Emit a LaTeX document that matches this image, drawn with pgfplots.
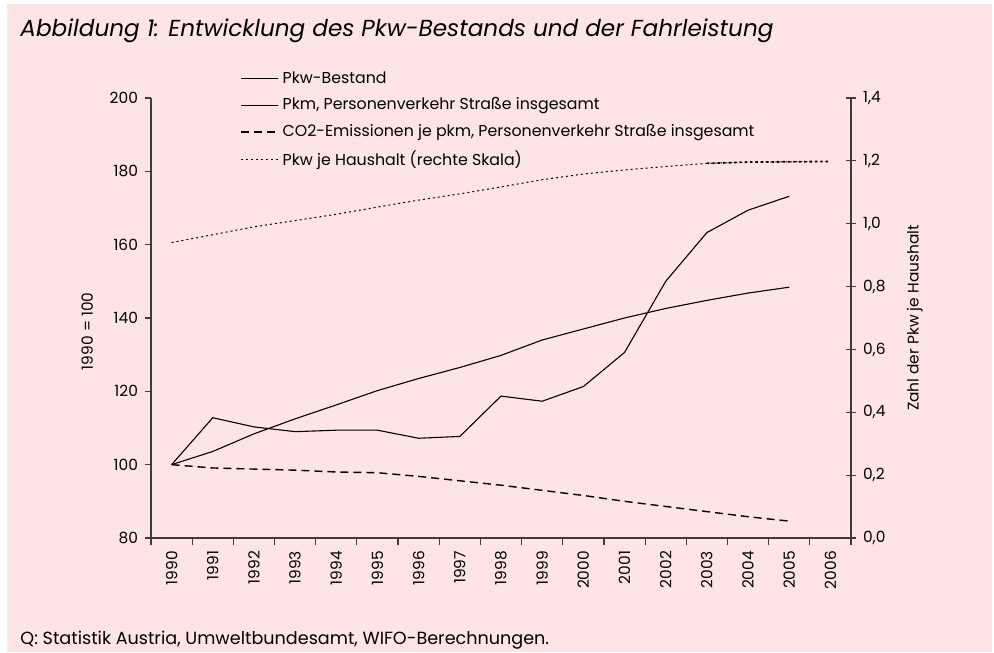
\documentclass[border=0pt]{standalone}
\usepackage{fontspec}
\setmainfont{Poppins}
\usepackage{pgfplots}
\pgfplotsset{compat=1.18}
\definecolor{bg}{RGB}{255,228,230}
\definecolor{ax}{RGB}{60,60,60}

\pgfplotstableread{
year bestand pkm co2
1990 100.0 100.0 100.0
1991 103.6 112.8 99.1
1992 108.4 110.3 98.8
1993 112.5 109.0 98.5
1994 116.3 109.4 98.0
1995 120.2 109.4 97.8
1996 123.5 107.2 96.8
1997 126.5 107.7 95.6
1998 129.8 118.7 94.4
1999 134.0 117.3 93.0
2000 137.0 121.3 91.6
2001 140.0 130.6 90.0
2002 142.6 150.0 88.6
2003 144.8 163.3 87.2
2004 146.8 169.4 85.8
2005 148.4 173.2 84.6
}\links

\pgfplotstableread{
year hh
1990 0.940
1991 0.965
1992 0.990
1993 1.010
1994 1.030
1995 1.053
1996 1.075
1997 1.095
1998 1.117
1999 1.140
2000 1.158
2001 1.171
2002 1.182
2003 1.192
2004 1.196
2005 1.197
2006 1.198
}\rechts

\begin{document}
\begin{tikzpicture}
\path (0pt,0pt) rectangle (497pt,326pt);
\fill[bg] (3.5pt,0pt) rectangle (496pt,324pt);
\node[anchor=base west, inner sep=0pt] at (10pt,307.5pt)
  {\fontsize{11.6}{14}\selectfont\itshape Abbildung 1: Entwicklung des Pkw-Bestands und der Fahrleistung};
\node[anchor=base west, inner sep=0pt] at (10pt,3.5pt)
  {\fontsize{8.8}{10}\selectfont Q: Statistik Austria, Umweltbundesamt, WIFO-Berechnungen.};

\begin{axis}[
  at={(75.5pt,57pt)}, anchor=south west,
  scale only axis, width=350pt, height=220pt,
  xmin=1989.5, xmax=2006.5, ymin=80, ymax=200,
  ytick={80,100,...,200},
  axis y line*=left, axis x line*=bottom,
  axis line style={-, draw=ax, line width=0.6pt},
  tick style={draw=ax, line width=0.6pt},
  tick align=outside,
  major tick length=3pt,
  xtick={1990,...,2006},
  major x tick style={draw=none},
  minor xtick={1989.5,1990.5,...,2006.5},
  minor tick length=3.5pt,
  x tick label style={rotate=90, anchor=east, yshift=0pt},
  xticklabel style={/pgf/number format/1000 sep={}},
  ticklabel style={font=\fontsize{7.7}{9}\selectfont},
  /pgf/number format/assume math mode=true,
  ylabel={1990 = 100},
  ylabel style={font=\fontsize{7.7}{9}\selectfont, at={(axis description cs:-0.091,0.47)}, anchor=center},
  legend style={at={(rel axis cs:0.127,1.07)}, anchor=north west, draw=none, fill=none,
    font=\fontsize{7.9}{9}\selectfont, row sep=1.7pt, inner sep=0pt,
    legend cell align=left},
  legend image code/.code={\draw[#1] (0pt,0pt) -- (18.5pt,0pt);},
  clip=false,
]
\addplot[black, line width=0.55pt] table[x=year, y=bestand] {\links};
\addlegendentry{Pkw-Bestand}
\addplot[black, line width=0.55pt] table[x=year, y=pkm] {\links};
\addlegendentry{Pkm, Personenverkehr Straße insgesamt}
\addplot[black, line width=0.7pt, dash pattern=on 4pt off 2.5pt] table[x=year, y=co2] {\links};
\addlegendentry{CO2-Emissionen je pkm, Personenverkehr Straße insgesamt}
\addlegendimage{black, line width=0.7pt, dash pattern=on 1pt off 1.5pt}
\addlegendentry{Pkw je Haushalt (rechte Skala)}
\end{axis}

\begin{axis}[
  at={(75.5pt,57pt)}, anchor=south west,
  scale only axis, width=350pt, height=220pt,
  xmin=1989.5, xmax=2006.5, ymin=0, ymax=1.4,
  ytick={0,0.2,...,1.4},
  axis y line*=right, axis x line=none,
  axis line style={-, draw=ax, line width=0.6pt},
  tick style={draw=ax, line width=0.6pt},
  tick align=center, major tick length=5pt,
  yticklabel style={/pgf/number format/.cd, use comma, fixed, fixed zerofill, precision=1},
  ticklabel style={font=\fontsize{7.7}{9}\selectfont},
  /pgf/number format/assume math mode=true,
  ylabel={Zahl der Pkw je Haushalt},
  ylabel style={font=\fontsize{7.7}{9}\selectfont, at={(axis description cs:1.091,0.5)}, anchor=center, rotate=0},
]
\addplot[black, line width=0.5pt, dash pattern=on 1pt off 1.5pt] table[x=year, y=hh] {\rechts};
\addplot[black, line width=0.9pt, dash pattern=on 1.2pt off 1.5pt] table[x=year, y=hh, skip coords between index={0}{13}] {\rechts};
\end{axis}
\end{tikzpicture}
\end{document}
